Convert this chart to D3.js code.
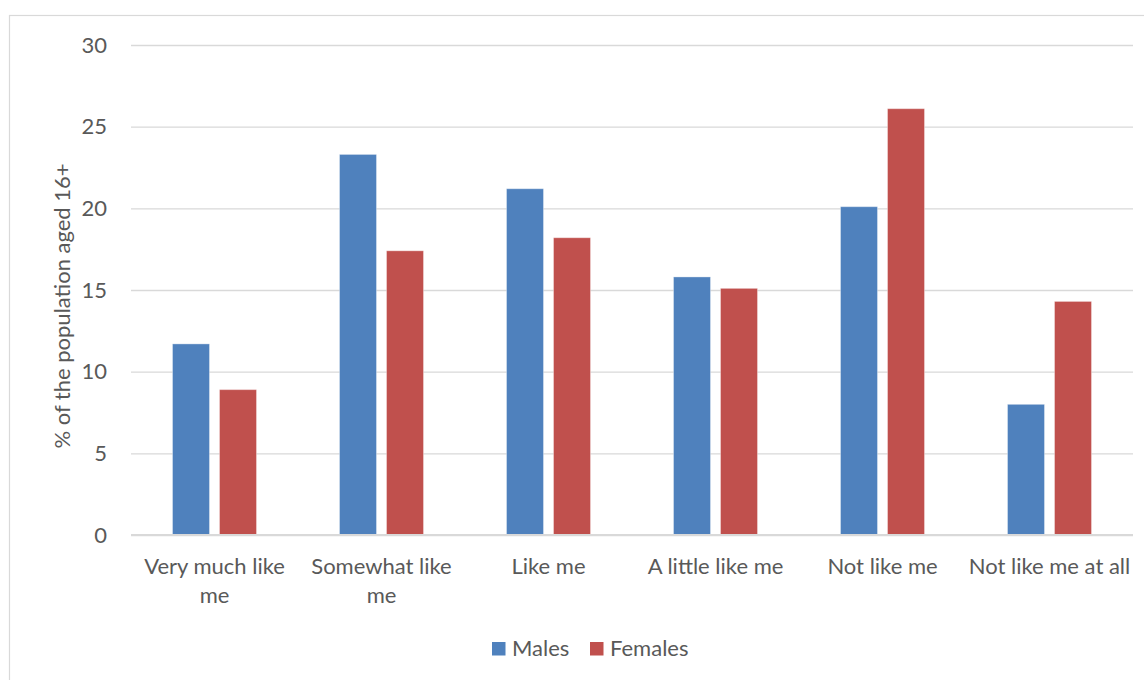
<!DOCTYPE html>
<html>
<head>
<meta charset="utf-8">
<script src="https://cdn.jsdelivr.net/npm/d3@7"></script>
<style>
  body { margin: 0; background: #fff; }
  svg { display: block; font-family: Lato, "Open Sans", sans-serif; }
</style>
</head>
<body>
<svg id="chart" width="1144" height="680"></svg>
<script>
// data
const categories = ["Very much like me", "Somewhat like me", "Like me",
                    "A little like me", "Not like me", "Not like me at all"];
const males   = [11.7, 23.3, 21.2, 15.8, 20.1, 8.0];
const females = [8.9, 17.4, 18.2, 15.1, 26.1, 14.3];
const seriesNames = ["Males", "Females"];
const seriesColors = ["#4F81BD", "#C0504D"];
const yTicks = [0, 5, 10, 15, 20, 25, 30];
const yTitle = "% of the population aged 16+";

const svg = d3.select("#chart");
const W = 1144, H = 680;
const plot = {left: 131, right: 1133, top: 45, bottom: 535};
const textColor = "#595959";
const fontSize = 22;

// chart frame
svg.append("rect")
    .attr("x", 9.5).attr("y", 15.5)
    .attr("width", W + 20).attr("height", H + 20)
    .attr("fill", "#fff")
    .attr("stroke", "#d9d9d9")
    .attr("stroke-width", 1.2);

let x0 = d3.scaleBand()
    .domain(categories)
    .range([plot.left, plot.right])
    .padding(0);

// two bars of ~37px with a 10px gap, centred in each category
let groupW = x0.step() * 0.503;
let x1 = d3.scaleBand()
    .domain(seriesNames)
    .range([(x0.step() - groupW) / 2, (x0.step() + groupW) / 2])
    .paddingInner(0.213)
    .paddingOuter(0);

let y = d3.scaleLinear()
    .domain([0, 30])
    .range([plot.bottom, plot.top]);

// gridlines + y labels
let yAxis = svg.append("g")
    .attr("transform", `translate(${plot.left},0)`)
    .call(d3.axisLeft(y)
        .tickValues(yTicks)
        .tickSize(-(plot.right - plot.left))
        .tickPadding(24)
        .tickFormat(d3.format("d")));
yAxis.select(".domain").remove();
yAxis.selectAll(".tick line")
    .attr("stroke", "#d9d9d9")
    .attr("stroke-width", 1.3);
yAxis.selectAll(".tick text")
    .attr("fill", textColor)
    .style("font-size", fontSize + "px")
    .style("font-family", "Lato, sans-serif");

// y title
svg.append("text")
    .attr("transform", `translate(62,306) rotate(-90)`)
    .attr("text-anchor", "middle")
    .attr("dy", "0.35em")
    .attr("fill", textColor)
    .style("font-size", fontSize + "px")
    .text(yTitle);

// bars
let rows = categories.map((c, i) => ({cat: c, values: [males[i], females[i]]}));
let groups = svg.append("g").selectAll("g")
    .data(rows)
    .enter()
    .append("g")
    .attr("transform", d => `translate(${x0(d.cat)},0)`);

groups.selectAll("rect")
    .data(d => d.values.map((v, j) => ({name: seriesNames[j], value: v, color: seriesColors[j]})))
    .enter()
    .append("rect")
    .attr("x", d => x1(d.name))
    .attr("y", d => y(d.value))
    .attr("width", x1.bandwidth())
    .attr("height", d => y(0) - y(d.value))
    .attr("fill", d => d.color)
    .attr("stroke", "#ffffff")
    .attr("stroke-opacity", 0.35)
    .attr("stroke-width", 1);

// x axis line
svg.append("line")
    .attr("x1", plot.left).attr("x2", plot.right)
    .attr("y1", y(0)).attr("y2", y(0))
    .attr("stroke", "#d9d9d9")
    .attr("stroke-width", 2);

// category labels, wrapped to the band width
let xAxis = svg.append("g")
    .attr("transform", `translate(0,${plot.bottom})`)
    .call(d3.axisBottom(x0).tickSize(0).tickPadding(0));
xAxis.select(".domain").remove();
xAxis.selectAll(".tick text")
    .attr("fill", textColor)
    .style("font-size", fontSize + "px")
    .style("font-family", "Lato, sans-serif")
    .call(wrap, x0.step());

function wrap(texts, width) {
    texts.each(function () {
        let text = d3.select(this);
        let words = text.text().split(/\s+/);
        text.text(null).attr("y", 0).attr("dy", null);
        let line = [];
        let lineNo = 0;
        let tspan = text.append("tspan").attr("x", 0).attr("y", 39);
        for (let w of words) {
            line.push(w);
            tspan.text(line.join(" "));
            if (tspan.node().getComputedTextLength() > width && line.length > 1) {
                line.pop();
                tspan.text(line.join(" "));
                line = [w];
                lineNo++;
                tspan = text.append("tspan").attr("x", 0).attr("y", 39 + lineNo * 29).text(w);
            }
        }
    });
}

// legend
let legendItems = [
    {name: seriesNames[0], color: seriesColors[0], x: 492},
    {name: seriesNames[1], color: seriesColors[1], x: 590}
];
let legend = svg.append("g").selectAll("g")
    .data(legendItems)
    .enter()
    .append("g")
    .attr("transform", d => `translate(${d.x},642)`);
legend.append("rect")
    .attr("width", 13.5).attr("height", 13.5)
    .attr("fill", d => d.color);
legend.append("text")
    .attr("x", 20)
    .attr("y", 14)
    .attr("fill", textColor)
    .style("font-size", fontSize + "px")
    .text(d => d.name);
</script>
</body>
</html>
